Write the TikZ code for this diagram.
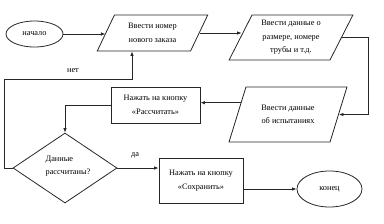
\documentclass[tikz,border=0pt]{standalone}
\usepackage{fontspec}
\setmainfont{Liberation Serif}
\usetikzlibrary{shapes.geometric,arrows.meta}
\begin{document}
\begin{tikzpicture}[x=1pt,y=-1pt,
  every node/.style={font=\fontsize{8.3}{13.5}\selectfont, align=center, inner sep=0pt},
  line/.style={draw=black!85, line width=0.8pt},
  arr/.style={line, -{Latex[length=4.5pt,width=3.5pt]}},
  term/.style={line, ellipse},
  io/.style={line, trapezium, trapezium stretches=true},
  proc/.style={line, rectangle},
  dec/.style={line, diamond}]
\useasboundingbox (0,0) rectangle (384,223);
\node[term, minimum width=57pt, minimum height=26pt] (s) at (34.5,34) {начало};
\node[io, trapezium left angle=60, trapezium right angle=120, minimum width=111pt, minimum height=36pt] (p1) at (152.5,33) {Ввести номер\\нового заказа};
\node[io, trapezium left angle=63, trapezium right angle=117, minimum width=124pt, minimum height=45pt] (p2) at (291,37.5) {Ввести данные о\\размере, номере\\трубы и т.д.};
\node[io, trapezium left angle=60.6, trapezium right angle=119.4, minimum width=118pt, minimum height=55pt] (p3) at (288,114.5) {Ввести данные\\об испытаниях};
\node[proc, minimum width=89pt, minimum height=36pt] (r1) at (155.5,105) {Нажать на кнопку\\«Рассчитать»};
\node[dec, minimum width=104pt, minimum height=70pt] (d) at (65,168) {};
\node[align=left] (dt) at (68,166) {Данные\\рассчитаны?};
\node[proc, minimum width=84pt, minimum height=45pt] (r2) at (201,180.5) {Нажать на кнопку\\«Сохранить»};
\node[term, minimum width=65pt, minimum height=36pt] (e) at (329.5,189) {конец};
\coordinate (nj) at (132,79);
% connectors
\draw[arr] (s.east) -- (s.east -| p1.west);
\draw[arr] (p1.east) -- ([xshift=1.5pt]p2.west |- p1.east);
\draw[arr] (p2.east) -- ++(26,0) |- (p3.east);
\draw[arr] (p3.166) -- (p3.166 -| r1.east);
\draw[arr] (r1.west) -| (d.north);
\draw[arr] (d.west) -- ++(-8,0) |- (nj) -- (nj |- p1.south);
\node (no) at (73,71) {нет};
\draw[arr] (d.east) -- (d.east -| r2.west);
\node (yes) at (135,155) {да};
\draw[arr] (r2.east |- e.west) -- (e.west);
\end{tikzpicture}
\end{document}
